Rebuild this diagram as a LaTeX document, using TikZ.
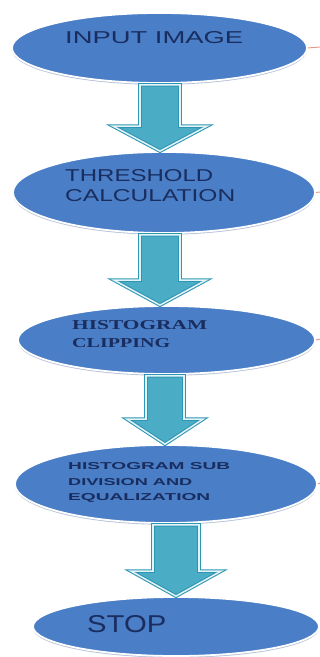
\documentclass[tikz,border=0pt]{standalone}
\usepackage{fontspec}
\setmainfont{Liberation Sans}
\newfontfamily\clipfont{Liberation Serif}
\usetikzlibrary{shapes.geometric,calc,shadows}

\definecolor{blobblue}{RGB}{74,126,199}
\definecolor{blobshadow}{RGB}{165,180,205}
\definecolor{blobtext}{RGB}{25,45,95}
\definecolor{arrowteal}{RGB}{75,172,198}
\definecolor{arrowedge}{RGB}{45,150,180}
\definecolor{stubred}{RGB}{230,150,140}

\newlength\px
\setlength\px{0.3mm}
\newcommand{\stretchtext}[3]{\resizebox{#1\px}{#2\px}{#3}}

\newcommand{\flowarrow}[5]{%
	\coordinate (ax) at (#3,0);
	\coordinate (atop) at (ax |- #1.south);
	\coordinate (atip) at (ax |- #2.north);
	\draw[blockarrow] ($(atop)+(-#4,1)$) -- ($(atip)+(-#4,-25)$) -- ($(atip)+(-#5,-25)$) -- (atip)
		-- ($(atip)+(#5,-25)$) -- ($(atip)+(#4,-25)$) -- ($(atop)+(#4,1)$) -- cycle;
}

\tikzset{
	blob/.style={ellipse, fill=blobblue, draw=white, line width=1.5pt, inner sep=0pt,
		drop shadow={shadow xshift=0pt, shadow yshift=-1.5pt, fill=blobshadow, opacity=0.8}},
	lbl/.style={anchor=west, inner sep=0pt, text=blobtext},
	blockarrow/.style={fill=arrowteal, draw=arrowedge, line width=0.9pt,
		double=white!85!arrowteal, double distance=1.3pt, line join=miter},
	stub/.style={draw=stubred, line width=0.8pt}
}

\begin{document}
\begin{tikzpicture}[x=0.3mm,y=-0.3mm]

			\useasboundingbox (0,0) rectangle (320,657);

			\node[blob, minimum width=88.5mm, minimum height=21mm] (e1) at (159.5,48) {};
			\node[blob, minimum width=90.6mm, minimum height=24.3mm] (e2) at (164,192.5) {};
			\node[blob, minimum width=89.1mm, minimum height=20.4mm] (e3) at (166.5,340) {};
			\node[blob, minimum width=90.6mm, minimum height=23.4mm] (e4) at (166,484) {};
			\node[blob, minimum width=85.8mm, minimum height=17.7mm] (e5) at (176,626.5) {};

			\node[lbl] (t1) at (65,37.5) {\stretchtext{178}{12}{INPUT IMAGE}};

			\node[lbl] (t2a) at (65,176) {\stretchtext{148}{12}{THRESHOLD}};
			\node[lbl] (t2b) at (65,196) {\stretchtext{170}{12}{CALCULATION}};

			\node[lbl] (t3a) at (72,325) {\stretchtext{135}{9}{\clipfont\bfseries HISTOGRAM}};
			\node[lbl] (t3b) at (72,343) {\stretchtext{98}{9}{\clipfont\bfseries CLIPPING}};

			\node[lbl] (t4a) at (68,466) {\stretchtext{162}{7}{\bfseries HISTOGRAM SUB}};
			\node[lbl] (t4b) at (68,482) {\stretchtext{124}{7}{\bfseries DIVISION AND}};
			\node[lbl] (t4c) at (68,498) {\stretchtext{142}{7}{\bfseries EQUALIZATION}};

			\node[lbl] (t5) at (87,624) {\stretchtext{79}{17}{STOP}};

			\flowarrow{e1}{e2}{160}{20}{47}
			\flowarrow{e2}{e3}{160}{20}{46}
			\flowarrow{e3}{e4}{165}{19}{38}
			\flowarrow{e4}{e5}{176}{23}{45}

			\coordinate (s1) at (320,47);
			\coordinate (s2) at (320,192);
			\coordinate (s3) at (320,339);
			\coordinate (s4) at (320,483);

			\draw[stub] (e1.east) -- (s1);
			\draw[stub] (e2.east) -- (s2);
			\draw[stub] (e3.east) -- (s3);
			\draw[stub] (e4.east) -- (s4);

\end{tikzpicture}
\end{document}
